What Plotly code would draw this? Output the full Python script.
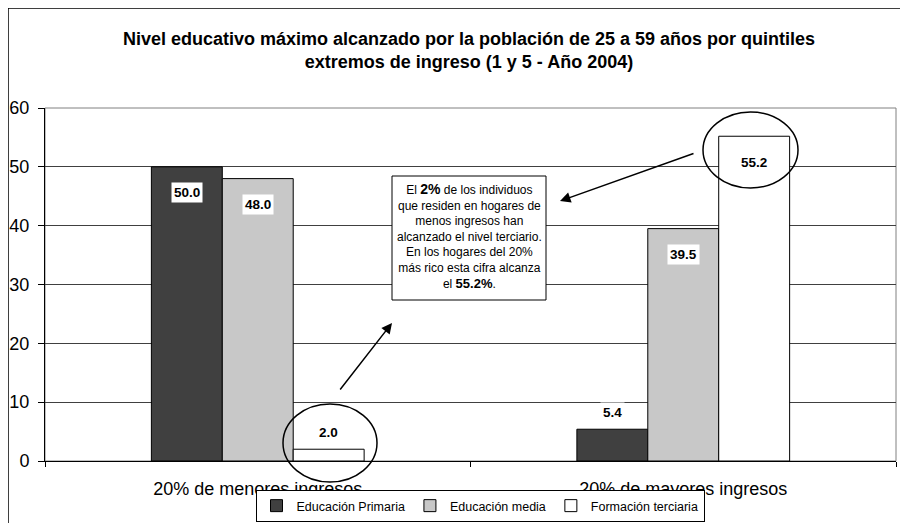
import plotly.graph_objects as go

categories = ["20% de menores ingresos", "20% de mayores ingresos"]
series_names = ["Educación Primaria", "Educación media", "Formación terciaria"]
primaria = [50.0, 5.4]
media = [48.0, 39.5]
terciaria = [2.0, 55.2]
series_values = [primaria, media, terciaria]
colors = ["#404040", "#C8C8C8", "#FFFFFF"]
y_ticks = [0, 10, 20, 30, 40, 50, 60]
box_text = ("El <b><span style='font-size:14px'>2%</span></b> de los individuos<br>"
            "que residen en hogares de<br>menos ingresos han<br>"
            "alcanzado el nivel terciario.<br>En los hogares del 20%<br>"
            "más rico esta cifra alcanza<br>el <b><span style='font-size:13px'>55.2%</span></b>.")

FONT = "Liberation Sans, Arial, sans-serif"
OFF = 8  # page body margin: figure is drawn 8px right/down in the window
W, H = 908 - OFF, 523 - OFF
# plot area in window pixels: x 45..896, y 108..461
ML, MT = 45 - OFF, 108 - OFF
MR = W - (896 - OFF)
MB = H - (461 - OFF)
PW, PH = W - ML - MR, H - MT - MB


def px(x):
    return (x - OFF - ML) / PW


def py(y):
    return (H - MB - (y - OFF)) / PH


fig = go.Figure()
for name, vals, col in zip(series_names, series_values, colors):
    fig.add_trace(go.Bar(
        name=name, x=categories, y=vals,
        marker=dict(color=col, line=dict(color="black", width=1)),
    ))

bargap = 0.5
bar_px = PW / len(categories) * (1 - bargap) / len(series_values)

annotations = []
for i, vals in enumerate(series_values):
    for c, v in zip(categories, vals):
        shift = -26 if v > 20 else 17
        annotations.append(dict(
            x=c, y=v, xref="x", yref="y", text="<b>%.1f</b>" % v,
            showarrow=False, xshift=(i - 1) * bar_px, yshift=shift,
            font=dict(family=FONT, size=13.5, color="black"),
            bgcolor="white", borderpad=2,
        ))

annotations.append(dict(
    x=px(469), y=py(179), xref="paper", yref="paper", text=box_text,
    showarrow=False, xanchor="center", yanchor="top", align="center",
    font=dict(family=FONT, size=12, color="black"),
))
# arrows
annotations.append(dict(
    x=px(392), y=py(323), xref="paper", yref="paper", text="",
    showarrow=True, ax=-53, ay=68, arrowhead=2, arrowsize=1.4,
    arrowwidth=1.5, arrowcolor="black",
))
annotations.append(dict(
    x=px(560), y=py(201), xref="paper", yref="paper", text="",
    showarrow=True, ax=135, ay=-48, arrowhead=2, arrowsize=1.4,
    arrowwidth=1.5, arrowcolor="black",
))

shapes = [
    # plot-area frame
    dict(type="rect", xref="paper", yref="paper", x0=0, y0=0, x1=1, y1=1,
         line=dict(color="#808080", width=1), layer="below"),
    # outer chart border
    dict(type="rect", xref="paper", yref="paper", x0=px(8), y0=py(600),
         x1=px(960), y1=py(8), line=dict(color="black", width=1.5)),
    # text box
    dict(type="rect", xref="paper", yref="paper", x0=px(392), x1=px(546),
         y0=py(300), y1=py(176), line=dict(color="black", width=1),
         fillcolor="white"),
    # ellipses
    dict(type="circle", xref="paper", yref="paper",
         x0=px(283), x1=px(377), y0=py(482), y1=py(404),
         line=dict(color="black", width=1.5)),
    dict(type="circle", xref="paper", yref="paper",
         x0=px(703), x1=px(798), y0=py(188), y1=py(112),
         line=dict(color="black", width=1.5)),
]

fig.update_layout(
    width=W, height=H,
    margin=dict(l=ML, r=MR, t=MT, b=MB, autoexpand=False),
    paper_bgcolor="white", plot_bgcolor="white",
    barmode="group", bargap=bargap, bargroupgap=0,
    font=dict(family=FONT, color="black"),
    title=dict(
        text="<b>Nivel educativo máximo alcanzado por la población de 25 a 59 años por quintiles<br>"
             "extremos de ingreso (1 y 5 - Año 2004)</b>",
        x=(469 - OFF) / W, xanchor="center", y=1 - (45 - OFF) / H, yanchor="middle",
        font=dict(family=FONT, size=18, color="black"),
    ),
    legend=dict(
        orientation="h", x=px(480), y=py(506), xanchor="center", yanchor="middle",
        bordercolor="black", borderwidth=1, bgcolor="white",
        font=dict(family=FONT, size=12.5, color="black"),
        itemwidth=30, tracegroupgap=0,
    ),
    xaxis=dict(
        type="category", showline=True, linecolor="black", linewidth=1,
        ticks="outside", tickson="boundaries", ticklen=5, tickcolor="black",
        tickfont=dict(family=FONT, size=18, color="black"),
        ticklabelstandoff=11, showgrid=False, automargin=False,
    ),
    yaxis=dict(
        range=[0, 60], tickvals=y_ticks, showline=True, linecolor="black",
        linewidth=1, ticks="outside", ticklen=6, tickcolor="black",
        tickfont=dict(family=FONT, size=18, color="black"),
        showgrid=True, gridcolor="#404040", gridwidth=1, zeroline=False,
        ticklabelstandoff=5, automargin=False,
    ),
    annotations=annotations, shapes=shapes, showlegend=True,
)

fig.write_html("out.html")
